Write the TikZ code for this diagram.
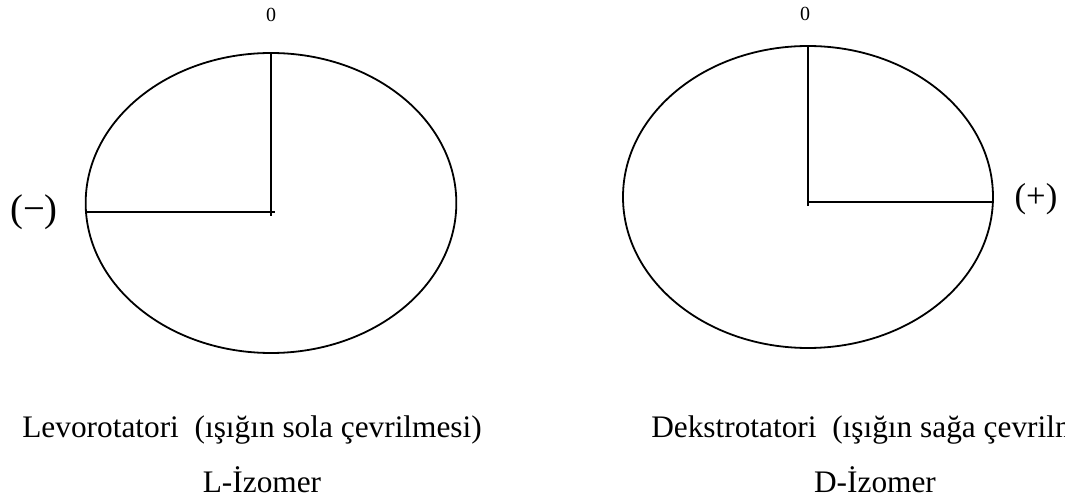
\documentclass[tikz,border=0pt]{standalone}
\usepackage{fontspec}
\setmainfont{Liberation Serif}
\usetikzlibrary{shapes.geometric}

\begin{document}
\begin{tikzpicture}[
    x=0.75pt, y=-0.75pt,
    disc/.style={draw, ellipse, line width=1.35pt, inner sep=0pt},
    arm/.style={line width=1pt},
    zero/.style={font=\fontsize{15}{17}\selectfont, inner sep=0pt},
    sign/.style={font=\fontsize{29}{32}\selectfont, inner sep=0pt},
    caption/.style={font=\fontsize{23.5}{28}\selectfont, inner sep=0pt}
  ]
  \useasboundingbox (0,0) rectangle (1065,499);

  % Left: levorotatory
  \node[disc, minimum width=278pt, minimum height=225pt] (Lo) at (271,203) {};
  \coordinate (Lc) at (271,212);
  \draw[arm] (Lo.north) -- ([yshift=-3pt]Lc);
  \draw[arm] (Lo.west |- Lc) -- ([xshift=3pt]Lc);
  \node[zero] (L0) at (271,15) {0};
  \node[sign] (Lminus) at (34,212) {(−)};

  % Right: dextrorotatory
  \node[disc, minimum width=277.5pt, minimum height=226.5pt] (Ro) at (808,197) {};
  \coordinate (Rc) at (808,202);
  \draw[arm] (Ro.north) -- ([yshift=-3pt]Rc);
  \draw[arm] (Rc) -- (Ro.east |- Rc);
  \node[zero] (R0) at (805,14) {0};
  \node[sign, font=\fontsize{26}{28}\selectfont] (Rplus) at (1036,199) {(+)};

  % Captions
  \node[caption, anchor=base east] (Ltext) at (482,437)
    {Levorotatori\ \ (ışığın sola çevrilmesi)};
  \node[caption, anchor=base] (Liso) at (262,492) {L-İzomer};
  \node[caption, anchor=base west] (Rtext) at (651,437)
    {Dekstrotatori\ \ (ışığın sağa çevrilmesi)};
  \node[caption, anchor=base] (Riso) at (875,492) {D-İzomer};
\end{tikzpicture}
\end{document}
